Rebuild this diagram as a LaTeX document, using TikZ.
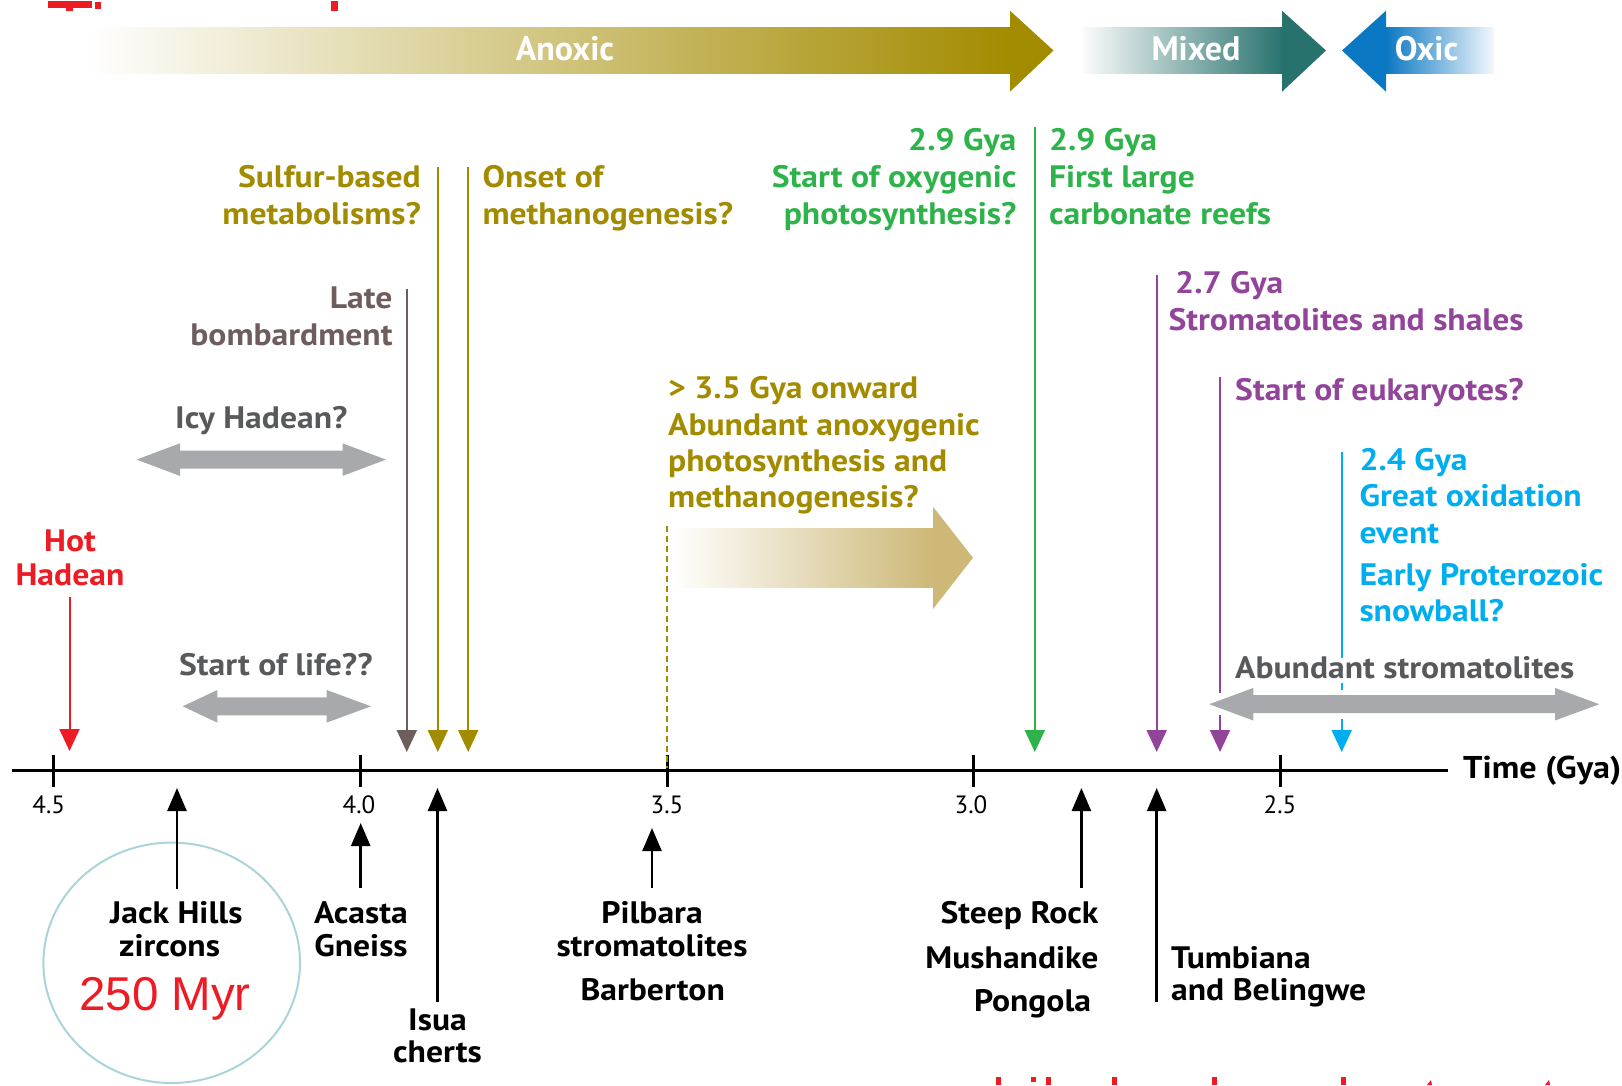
\documentclass[tikz,border=0pt]{standalone}
\usepackage{fontspec}
\setmainfont{PT Sans}
\newfontfamily\lblfont{PT Sans}[FakeStretch=1.085]
\newfontfamily\arialfont{Liberation Sans}
\usetikzlibrary{arrows.meta}
\definecolor{cOlive}{HTML}{A38B00}
\definecolor{cGreen}{HTML}{2DB34A}
\definecolor{cPurple}{HTML}{92449B}
\definecolor{cCyan}{HTML}{00AEEF}
\definecolor{cRed}{HTML}{ED1C24}
\definecolor{cBrown}{HTML}{6E5D5D}
\definecolor{cGrayT}{HTML}{58595B}
\definecolor{cGrayA}{HTML}{A7A9AC}
\definecolor{cTeal}{HTML}{28726E}
\definecolor{cBlue}{HTML}{0A77C2}
\definecolor{cTan}{HTML}{CDB877}
\definecolor{cCircle}{HTML}{A9D5D9}
\newcommand\dblarr[6]{% color, left tip, left base, right base, right tip, center y
  \fill[#1] (#2,#6) -- (#3,#6-16.3) -- (#3,#6-9) -- (#4,#6-9) -- (#4,#6-16.3) -- (#5,#6)
   -- (#4,#6+16.3) -- (#4,#6+9) -- (#3,#6+9) -- (#3,#6+16.3) -- cycle;}
\begin{document}
\begin{tikzpicture}[x=1pt,y=-1pt,
  lbl/.style={font=\lblfont\fontsize{31}{36}\selectfont\bfseries, inner sep=0pt},
  band/.style={font=\fontsize{34}{40}\selectfont\bfseries, text=white, inner sep=0pt, anchor=base},
  ticklbl/.style={font=\fontsize{25}{30}\selectfont, inner sep=0pt, anchor=base},
  downarr/.style={line width=2pt, -{Triangle[width=20pt,length=22pt]}},
  plainln/.style={line width=2pt},
  uparr/.style={line width=2.5pt, -{Triangle[width=19pt,length=23pt]}}]
\useasboundingbox (0,0) rectangle (1622,1085);

% red fragments of cut-off text
\fill[cRed] (48,1) rectangle (92,8);
\fill[cRed] (66,8) rectangle (73,11);
\fill[cRed] (95,2) rectangle (101,9);
\fill[cRed] (331,1) rectangle (338,11);
\foreach \xx in {996,1046,1112,1212,1341} {\fill[cRed] (\xx,1077) rectangle (\xx+5,1085);}
\fill[cRed] (1031,1077) rectangle (1036,1082);
\fill[cRed] (1427,1085) -- (1431,1080) -- (1432,1085) -- cycle;
\fill[cRed] (1545,1085) -- (1549,1080) -- (1550,1085) -- cycle;

% top band arrows
\shade[left color=white, middle color={rgb,255:red,196;green,173;blue,98}, right color=cOlive] (88,27.3) rectangle (1011,73.3);
\fill[cOlive] (1010,10.7) -- (1053.5,50.5) -- (1010,91.7) -- cycle;
\node[band] (anoxic) at (565,60) {Anoxic};
\shade[left color={rgb,255:red,250;green,251;blue,251}, middle color={rgb,255:red,134;green,163;blue,161}, right color=cTeal] (1083,27.3) rectangle (1283,73.3);
\fill[cTeal] (1282,10.7) -- (1326,50.5) -- (1282,91.7) -- cycle;
\node[band] (mixed) at (1196,60) {Mixed};
\fill[cBlue] (1342,50.5) -- (1386,10.7) -- (1386,91.7) -- cycle;
\shade[left color=cBlue, middle color={rgb,255:red,92;green,154;blue,214}, right color={rgb,255:red,244;green,248;blue,253}] (1385,27.3) rectangle (1494,73.3);
\node[band] (oxic) at (1426.5,60) {Oxic};

% time axis
\coordinate (axL) at (12,770.6);
\coordinate (axR) at (1448,770.6);
\draw[line width=3.5pt] (axL) -- (axR);
\foreach \xx in {53.8,360,667,973,1280.6} {\draw[line width=3pt] (\xx,755) -- (\xx,787);}
\node[ticklbl] (t45) at (48.7,813) {4.5};
\node[ticklbl] (t40) at (359,813) {4.0};
\node[ticklbl] (t35) at (667,813) {3.5};
\node[ticklbl] (t30) at (971,813) {3.0};
\node[ticklbl] (t25) at (1280,813) {2.5};
\node[lbl, anchor=base west, font=\lblfont\fontsize{31.5}{36}\selectfont\bfseries] (time) at (1463,778.3) {Time (Gya)};

% upper labels
\node[lbl, text=cOlive, anchor=base east] (s1) at (421,187) {Sulfur-based};
\node[lbl, text=cOlive, anchor=base east] (s2) at (421,224) {metabolisms?};
\node[lbl, text=cOlive, anchor=base west] (m1) at (482.3,187) {Onset of};
\node[lbl, text=cOlive, anchor=base west] (m2) at (482.3,224) {methanogenesis?};
\node[lbl, text=cGreen, anchor=base east] (g1) at (1016.6,150) {2.9 Gya};
\node[lbl, text=cGreen, anchor=base east] (g2) at (1016.6,187) {Start of oxygenic};
\node[lbl, text=cGreen, anchor=base east] (g3) at (1016.6,224) {photosynthesis?};
\node[lbl, text=cGreen, anchor=base west] (g4) at (1048.8,150) {2.9 Gya};
\node[lbl, text=cGreen, anchor=base west] (g5) at (1048.8,187) {First large};
\node[lbl, text=cGreen, anchor=base west] (g6) at (1048.8,224) {carbonate reefs};
\node[lbl, text=cBrown, anchor=base east] (l1) at (392.7,308.3) {Late};
\node[lbl, text=cBrown, anchor=base east] (l2) at (392.7,345) {bombardment};
\node[lbl, text=cGrayT, anchor=base] (icy) at (261.3,428.3) {Icy Hadean?};
\node[lbl, text=cRed, anchor=base] (h1) at (70,551.7) {Hot};
\node[lbl, text=cRed, anchor=base] (h2) at (70,585) {Hadean};
\node[lbl, text=cGrayT, anchor=base] (life) at (275.8,675) {Start of life??};
\node[lbl, text=cOlive, anchor=base west] (a1) at (668,398.3) {> 3.5 Gya onward};
\node[lbl, text=cOlive, anchor=base west] (a2) at (668,435) {Abundant anoxygenic};
\node[lbl, text=cOlive, anchor=base west] (a3) at (668,471) {photosynthesis and};
\node[lbl, text=cOlive, anchor=base west] (a4) at (668,507) {methanogenesis?};
\node[lbl, text=cPurple, anchor=base west] (p1) at (1175,293.3) {2.7 Gya};
\node[lbl, text=cPurple, anchor=base west] (p2) at (1168.3,330) {Stromatolites and shales};
\node[lbl, text=cPurple, anchor=base west] (p3) at (1235,400) {Start of eukaryotes?};
\node[lbl, text=cCyan, anchor=base west] (c1) at (1359.3,470) {2.4 Gya};
\node[lbl, text=cCyan, anchor=base west] (c2) at (1359.3,506.7) {Great oxidation};
\node[lbl, text=cCyan, anchor=base west] (c3) at (1359.3,543.3) {event};
\node[lbl, text=cCyan, anchor=base west] (c4) at (1359.3,585) {Early Proterozoic};
\node[lbl, text=cCyan, anchor=base west] (c5) at (1359.3,621.7) {snowball?};
\node[lbl, text=cGrayT, anchor=base west] (ab) at (1235,678.3) {Abundant stromatolites};

% gray double arrows
\dblarr{cGrayA}{136.5}{180}{342.5}{386}{459.6}
\dblarr{cGrayA}{182.7}{217.3}{326.7}{371}{706.3}
\dblarr{cGrayA}{1209.3}{1253.3}{1555}{1599.3}{704.2}

% big gradient arrow
\shade[left color=white, middle color={rgb,255:red,226;green,212;blue,166}, right color=cTan] (672,528) rectangle (934,587.7);
\fill[cTan] (933,506.7) -- (973,557.8) -- (933,609) -- cycle;
\coordinate (dashTop) at (667,525.7);
\coordinate (dashBot) at (667,768);
\draw[cOlive, line width=2pt, dash pattern=on 6pt off 4pt] (dashTop) -- (dashBot);

% downward arrows
\coordinate (hotTop) at (69.5,596.7); \coordinate (hotTip) at (69.5,751);
\draw[downarr, cRed] (hotTop) -- (hotTip);
\coordinate (lbTop) at (406.8,289.3); \coordinate (lbTip) at (406.8,752);
\draw[downarr, cBrown] (lbTop) -- (lbTip);
\coordinate (sfTop) at (437.8,166.7); \coordinate (sfTip) at (437.8,752);
\draw[downarr, cOlive] (sfTop) -- (sfTip);
\coordinate (mgTop) at (468.2,166.7); \coordinate (mgTip) at (468.2,752);
\draw[downarr, cOlive] (mgTop) -- (mgTip);
\coordinate (grTop) at (1034.8,126.7); \coordinate (grTip) at (1034.8,752);
\draw[downarr, cGreen] (grTop) -- (grTip);
\coordinate (puTop) at (1156.7,275); \coordinate (puTip) at (1156.7,752);
\draw[downarr, cPurple] (puTop) -- (puTip);
\coordinate (euTop) at (1220,376.7); \coordinate (euMid1) at (1220,693.3);
\coordinate (euMid2) at (1220,715); \coordinate (euTip) at (1220,752);
\draw[plainln, cPurple] (euTop) -- (euMid1);
\draw[downarr, cPurple] (euMid2) -- (euTip);
\coordinate (cyTop) at (1341.7,451.7); \coordinate (cyA) at (1341.7,658.3);
\coordinate (cyB) at (1341.7,682.7); \coordinate (cyC) at (1341.7,690);
\coordinate (cyD) at (1341.7,719.3); \coordinate (cyTip) at (1341.7,752);
\draw[plainln, cCyan] (cyTop) -- (cyA);
\draw[plainln, cCyan] (cyB) -- (cyC);
\draw[downarr, cCyan] (cyD) -- (cyTip);

% lower labels
\draw[cCircle, line width=2pt] (171.7,962.8) ellipse [x radius=128.3, y radius=120.2];
\node[lbl, anchor=base] (j1) at (176.3,923) {Jack Hills};
\node[lbl, anchor=base] (j2) at (169.6,956.7) {zircons};
\node[inner sep=0pt, anchor=base, text=cRed, font=\arialfont\fontsize{47.5}{50}\selectfont] (myr) at (165,1010.7) {250 Myr};
\node[lbl, anchor=base] (ac1) at (361,923) {Acasta};
\node[lbl, anchor=base] (ac2) at (361,956.7) {Gneiss};
\node[lbl, anchor=base] (is1) at (437.5,1030) {Isua};
\node[lbl, anchor=base] (is2) at (437.5,1062.7) {cherts};
\node[lbl, anchor=base] (pb1) at (652,923) {Pilbara};
\node[lbl, anchor=base] (pb2) at (652,956.7) {stromatolites};
\node[lbl, anchor=base] (pb3) at (652.7,1000) {Barberton};
\node[lbl, anchor=base east] (st1) at (1098.6,923) {Steep Rock};
\node[lbl, anchor=base east] (st2) at (1098.6,968.3) {Mushandike};
\node[lbl, anchor=base east] (st3) at (1091.3,1011.7) {Pongola};
\node[lbl, anchor=base west] (tu1) at (1171,968.3) {Tumbiana};
\node[lbl, anchor=base west] (tu2) at (1171,1000) {and Belingwe};

% upward arrows
\coordinate (jhTip) at (177,788); \coordinate (jhBot) at (177,889);
\draw[uparr] (jhBot) -- (jhTip);
\coordinate (acTip) at (360.7,823); \coordinate (acBot) at (360.7,888);
\draw[uparr] (acBot) -- (acTip);
\coordinate (isTip) at (437.5,788); \coordinate (isBot) at (437.5,1001.7);
\draw[uparr] (isBot) -- (isTip);
\coordinate (pbTip) at (652,828); \coordinate (pbBot) at (652,888);
\draw[uparr] (pbBot) -- (pbTip);
\coordinate (srTip) at (1081.4,788); \coordinate (srBot) at (1081.4,888);
\draw[uparr] (srBot) -- (srTip);
\coordinate (tbTip) at (1156.7,788); \coordinate (tbBot) at (1156.7,1001.7);
\draw[uparr] (tbBot) -- (tbTip);
\end{tikzpicture}
\end{document}
